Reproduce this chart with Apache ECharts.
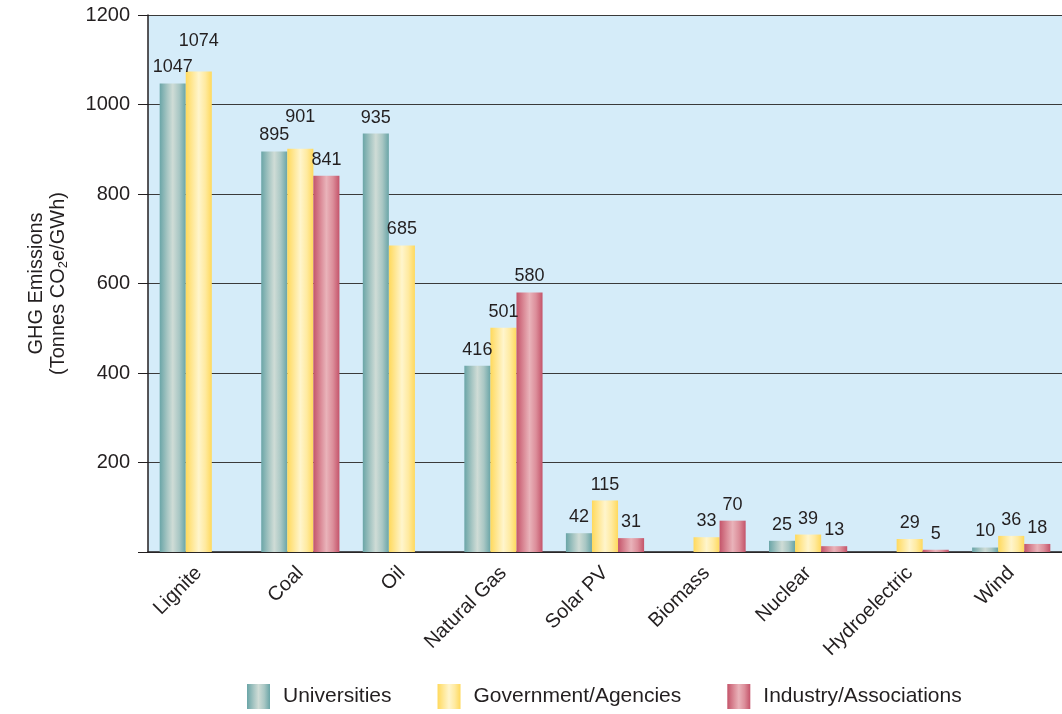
<!DOCTYPE html>
<html>
<head>
<meta charset="utf-8">
<script src="https://cdn.jsdelivr.net/npm/echarts@6/dist/echarts.min.js"></script>
<style>
html,body{margin:0;padding:0;background:#fff;}
#c{width:1062px;height:714px;}
</style>
</head>
<body>
<div id="c"></div>
<script>
const categories = ['Lignite','Coal','Oil','Natural Gas','Solar PV','Biomass','Nuclear','Hydroelectric','Wind'];
const universities = [1047, 895, 935, 416, 42, null, 25, null, 10];
const government = [1074, 901, 685, 501, 115, 33, 39, 29, 36];
const industry = [null, 841, null, 580, 31, 70, 13, 5, 18];
const seriesNames = ['Universities','Government/Agencies','Industry/Associations'];
const yTicks = [0, 200, 400, 600, 800, 1000, 1200];

const FONT = 'Liberation Sans, Arial, sans-serif';
const TXT = '#231f20';
function grad(edge, mid, light){
  return new echarts.graphic.LinearGradient(0,0,1,0,[
    {offset:0, color:edge},
    {offset:0.3, color:mid},
    {offset:0.5, color:light},
    {offset:0.75, color:mid},
    {offset:1, color:edge}
  ]);
}
const colors = [
  grad('#6aa5a7','#a9c7c4','#cfdcd6'),
  grad('#ffd95c','#ffeaa0','#fff5cc'),
  grad('#c4546a','#dc8e9a','#e9b3ba')
];
// extra label lifts for readability (as in reference)
const govLift = [14, 16, 0, 0, 0, 0, 0, 0, 0];

function mkSeries(idx, data, lifts){
  return {
    name: seriesNames[idx],
    type: 'bar',
    barGap: '0%',
    barCategoryGap: '23%',
    data: data.map((v,i)=>({
      value: v,
      label: {distance: 7 + (lifts ? lifts[i] : 0)}
    })),
    itemStyle: {color: colors[idx]},
    label: {
      show: true, position: 'top', color: TXT,
      fontSize: 18, fontFamily: FONT
    }
  };
}

const chart = echarts.init(document.getElementById('c'));
chart.setOption({
  animation: false,
  grid: {left: 148, right: 0, top: 15, bottom: 162, backgroundColor: '#d5ecf9', show: true, borderWidth: 0},
  legend: {
    bottom: 0, left: 242,
    icon: 'rect',
    itemWidth: 23, itemHeight: 25, itemGap: 46,
    textStyle: {fontSize: 21, color: TXT, fontFamily: FONT, padding: [0,0,0,8]},
    data: seriesNames.map((n,i)=>({name:n, itemStyle:{color: colors[i]}}))
  },
  xAxis: {
    type: 'category',
    data: categories,
    axisLine: {lineStyle: {color: TXT, width: 1.5}},
    axisTick: {show: false},
    axisLabel: {rotate: 45, fontSize: 20, color: TXT, fontFamily: FONT, margin: 18, interval: 0}
  },
  yAxis: {
    type: 'value',
    min: yTicks[0], max: yTicks[yTicks.length-1], interval: 200,
    name: '{a|GHG Emissions}\n{a|(Tonnes CO}{s|2}{a|e/GWh)}',
    nameLocation: 'middle',
    nameGap: 79,
    nameTextStyle: {
      color: TXT, fontFamily: FONT, lineHeight: 22,
      rich: {
        a: {fontSize: 20, color: TXT, fontFamily: FONT, lineHeight: 22},
        s: {fontSize: 13, color: TXT, fontFamily: FONT, padding: [10,0,0,0]}
      }
    },
    axisLine: {show: true, lineStyle: {color: TXT, width: 1.5}},
    axisTick: {show: true, length: 10, lineStyle: {color: TXT}},
    axisLabel: {
      fontSize: 20, color: TXT, fontFamily: FONT, margin: 18,
      formatter: v => v === 0 ? '' : String(v)
    },
    splitLine: {lineStyle: {color: '#3a3a3a', width: 1}}
  },
  series: [
    mkSeries(0, universities),
    mkSeries(1, government, govLift),
    mkSeries(2, industry)
  ]
});
</script>
</body>
</html>
